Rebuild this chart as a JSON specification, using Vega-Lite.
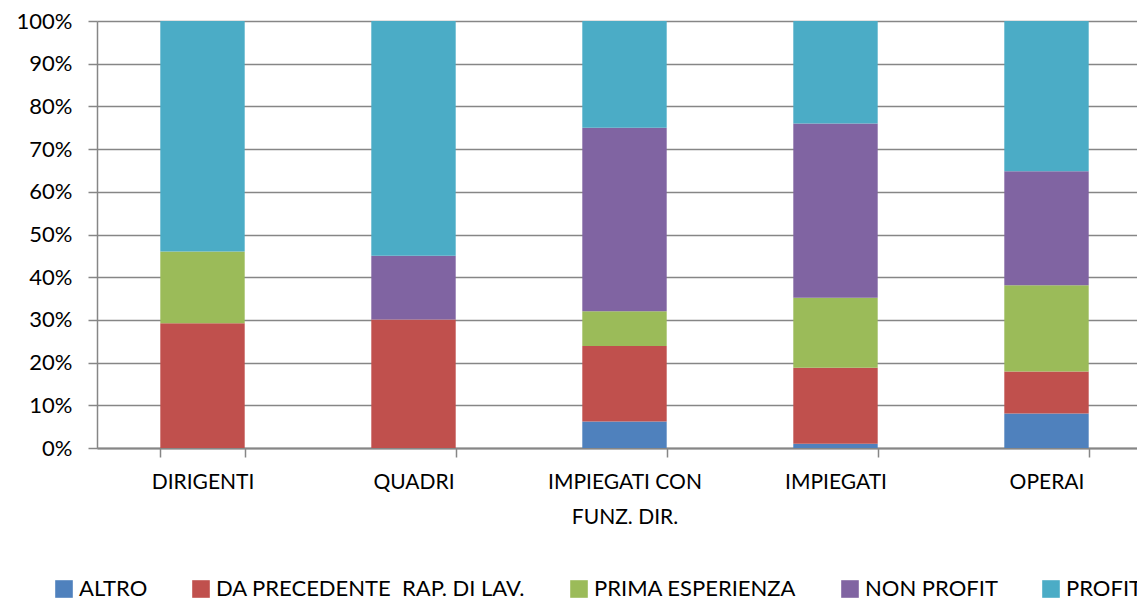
{
  "$schema": "https://vega.github.io/schema/vega-lite/v6.json",
  "width": 1040,
  "height": 427,
  "autosize": {"type": "none"},
  "padding": {"left": 97, "top": 21, "right": 0, "bottom": 152},
  "background": "white",
  "config": {"view": {"stroke": null}, "font": "Lato"},
  "data": {
    "values": [
      {"cat": "DIRIGENTI", "src": "DA PRECEDENTE\u00a0 RAP. DI LAV.", "pct": 29.2},
      {"cat": "DIRIGENTI", "src": "PRIMA ESPERIENZA", "pct": 16.8},
      {"cat": "DIRIGENTI", "src": "PROFIT", "pct": 54.0},
      {"cat": "QUADRI", "src": "DA PRECEDENTE\u00a0 RAP. DI LAV.", "pct": 30.1},
      {"cat": "QUADRI", "src": "NON PROFIT", "pct": 14.9},
      {"cat": "QUADRI", "src": "PROFIT", "pct": 55.0},
      {"cat": "IMPIEGATI CON FUNZ. DIR.", "src": "ALTRO", "pct": 6.2},
      {"cat": "IMPIEGATI CON FUNZ. DIR.", "src": "DA PRECEDENTE\u00a0 RAP. DI LAV.", "pct": 17.7},
      {"cat": "IMPIEGATI CON FUNZ. DIR.", "src": "PRIMA ESPERIENZA", "pct": 8.1},
      {"cat": "IMPIEGATI CON FUNZ. DIR.", "src": "NON PROFIT", "pct": 43.0},
      {"cat": "IMPIEGATI CON FUNZ. DIR.", "src": "PROFIT", "pct": 25.0},
      {"cat": "IMPIEGATI", "src": "ALTRO", "pct": 1.0},
      {"cat": "IMPIEGATI", "src": "DA PRECEDENTE\u00a0 RAP. DI LAV.", "pct": 17.8},
      {"cat": "IMPIEGATI", "src": "PRIMA ESPERIENZA", "pct": 16.4},
      {"cat": "IMPIEGATI", "src": "NON PROFIT", "pct": 40.8},
      {"cat": "IMPIEGATI", "src": "PROFIT", "pct": 24.0},
      {"cat": "OPERAI", "src": "ALTRO", "pct": 8.1},
      {"cat": "OPERAI", "src": "DA PRECEDENTE\u00a0 RAP. DI LAV.", "pct": 9.8},
      {"cat": "OPERAI", "src": "PRIMA ESPERIENZA", "pct": 20.2},
      {"cat": "OPERAI", "src": "NON PROFIT", "pct": 26.7},
      {"cat": "OPERAI", "src": "PROFIT", "pct": 35.2}
    ]
  },
  "transform": [
    {"calculate": "indexof(['ALTRO', 'DA PRECEDENTE\u00a0 RAP. DI LAV.', 'PRIMA ESPERIENZA', 'NON PROFIT', 'PROFIT'], datum.src)", "as": "stackorder"}
  ],
  "mark": {"type": "bar"},
  "encoding": {
    "x": {
      "field": "cat",
      "type": "nominal",
      "sort": ["DIRIGENTI", "QUADRI", "IMPIEGATI CON FUNZ. DIR.", "IMPIEGATI", "OPERAI"],
      "scale": {"range": [0, 1055], "paddingInner": 0.6, "paddingOuter": 0.3},
      "axis": {
        "title": null,
        "labelAngle": 0,
        "labelFont": "Lato",
        "labelFontSize": 21,
        "labelColor": "black",
        "labelLimit": 400,
        "labelPadding": 14,
        "labelLineHeight": 35,
        "labelExpr": "datum.value == 'IMPIEGATI CON FUNZ. DIR.' ? ['IMPIEGATI CON', 'FUNZ. DIR.'] : datum.value",
        "tickBand": "extent",
        "tickSize": 9,
        "tickColor": "#868686",
        "tickWidth": 1.5,
        "domainColor": "#868686",
        "domainWidth": 2,
        "grid": false
      }
    },
    "y": {
      "field": "pct",
      "type": "quantitative",
      "stack": "normalize",
      "scale": {"domain": [0, 1]},
      "axis": {
        "title": null,
        "values": [0, 0.1, 0.2, 0.3, 0.4, 0.5, 0.6, 0.7, 0.8, 0.9, 1],
        "format": ".0%",
        "labelFont": "Lato",
        "labelFontSize": 22,
        "labelColor": "black",
        "labelPadding": 16,
        "tickSize": 9,
        "tickColor": "#868686",
        "tickWidth": 1.5,
        "domainColor": "#868686",
        "domainWidth": 1.5,
        "grid": true,
        "gridColor": "#868686",
        "gridWidth": 1.5
      }
    },
    "order": {"field": "stackorder", "type": "quantitative", "sort": "ascending"},
    "color": {
      "field": "src",
      "type": "nominal",
      "scale": {
        "domain": ["ALTRO", "DA PRECEDENTE\u00a0 RAP. DI LAV.", "PRIMA ESPERIENZA", "NON PROFIT", "PROFIT"],
        "range": ["#4F81BD", "#C0504D", "#9BBB59", "#8064A2", "#4BACC6"]
      },
      "legend": {
        "orient": "none",
        "legendX": -44,
        "legendY": 557,
        "direction": "horizontal",
        "columns": 5,
        "title": null,
        "symbolType": "square",
        "symbolSize": 310,
        "symbolStrokeWidth": 0,
        "symbolOpacity": 1,
        "labelFont": "Lato",
        "labelFontSize": 22,
        "labelColor": "black",
        "labelOffset": 4,
        "labelLimit": 400,
        "columnPadding": 42
      }
    }
  }
}
